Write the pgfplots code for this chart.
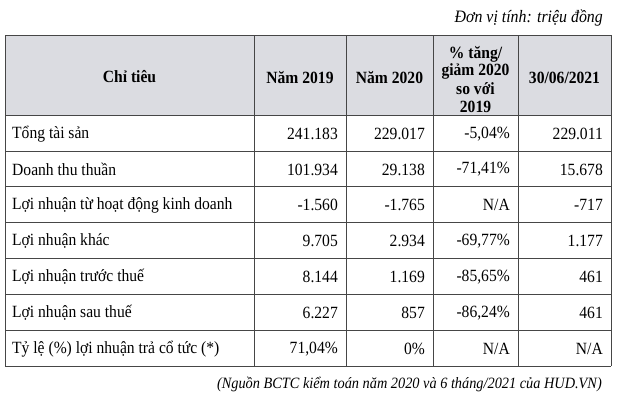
\documentclass[border=0pt]{standalone}
\usepackage{fontspec}
\setmainfont{Liberation Serif}[FakeStretch=0.91]
\usepackage{pgfplots}
\pgfplotsset{compat=1.18}
\definecolor{hdr}{RGB}{219,220,225}
\definecolor{rule}{RGB}{70,70,70}
\tikzset{
  txt/.style={font=\fontsize{17.2}{18}\selectfont, inner sep=0pt},
  hd/.style={font=\fontsize{17.2}{18}\selectfont\bfseries, inner sep=0pt},
}
\begin{document}
\begin{tikzpicture}
\begin{axis}[
    width=630bp, height=402bp, scale only axis,
    xmin=0, xmax=630, ymin=0, ymax=402, y dir=reverse,
    hide axis, clip=false,
]
\addplot[draw=none, forget plot] coordinates {(0,0) (630,402)};
% header band
\addplot[fill=hdr, draw=none] coordinates {(5,35) (611,35) (611,115) (5,115)} -- cycle;
% grid
\pgfplotsinvokeforeach{35,115,151,186,222,258,294,330,366}{
  \addplot[rule, line width=0.8bp] coordinates {(5,#1) (611,#1)};
}
\pgfplotsinvokeforeach{5,254,346,433,518,611}{
  \addplot[rule, line width=0.8bp] coordinates {(#1,35) (#1,366)};
}
% notes
\node[anchor=east, inner sep=0pt, font=\fontsize{17.5}{19}\selectfont\itshape] at (axis cs:603,18) {Đơn vị tính: triệu đồng};
\node[anchor=east, inner sep=0pt, font=\fontsize{15.8}{18}\selectfont\itshape] at (axis cs:602,384) {(Nguồn BCTC kiểm toán năm 2020 và 6 tháng/2021 của HUD.VN)};
% header text
\node[hd] at (axis cs:129.5,77) {Chỉ tiêu};
\node[hd] at (axis cs:300,78) {Năm 2019};
\node[hd] at (axis cs:389.5,78) {Năm 2020};
\node[hd] at (axis cs:475.5,54) {\% tăng/};
\node[hd] at (axis cs:475.5,71.5) {giảm 2020};
\node[hd] at (axis cs:475.5,89) {so với};
\node[hd] at (axis cs:475.5,106.5) {2019};
\node[hd] at (axis cs:564.5,78) {30/06/2021};
% row labels
\node[txt, anchor=west] at (axis cs:12,134) {Tổng tài sản};
\node[txt, anchor=west] at (axis cs:12,169.5) {Doanh thu thuần};
\node[txt, anchor=west] at (axis cs:12,205) {Lợi nhuận từ hoạt động kinh doanh};
\node[txt, anchor=west] at (axis cs:12,241) {Lợi nhuận khác};
\node[txt, anchor=west] at (axis cs:12,277) {Lợi nhuận trước thuế};
\node[txt, anchor=west] at (axis cs:12,313) {Lợi nhuận sau thuế};
\node[txt, anchor=west] at (axis cs:12,349) {Tỷ lệ (\%) lợi nhuận trả cổ tức (*)};
% Năm 2019
\node[txt, anchor=east] at (axis cs:338,134) {241.183};
\node[txt, anchor=east] at (axis cs:338,169.5) {101.934};
\node[txt, anchor=east] at (axis cs:338,205) {-1.560};
\node[txt, anchor=east] at (axis cs:338,241) {9.705};
\node[txt, anchor=east] at (axis cs:338,277) {8.144};
\node[txt, anchor=east] at (axis cs:338,313) {6.227};
\node[txt, anchor=east] at (axis cs:338,349) {71,04\%};
% Năm 2020
\node[txt, anchor=east] at (axis cs:425,134) {229.017};
\node[txt, anchor=east] at (axis cs:425,169.5) {29.138};
\node[txt, anchor=east] at (axis cs:425,205) {-1.765};
\node[txt, anchor=east] at (axis cs:425,241) {2.934};
\node[txt, anchor=east] at (axis cs:425,277) {1.169};
\node[txt, anchor=east] at (axis cs:425,313) {857};
\node[txt, anchor=east] at (axis cs:425,349) {0\%};
% % change
\node[txt, anchor=east] at (axis cs:510,134) {-5,04\%};
\node[txt, anchor=east] at (axis cs:510,169.5) {-71,41\%};
\node[txt, anchor=east] at (axis cs:510,205) {N/A};
\node[txt, anchor=east] at (axis cs:510,241) {-69,77\%};
\node[txt, anchor=east] at (axis cs:510,277) {-85,65\%};
\node[txt, anchor=east] at (axis cs:510,313) {-86,24\%};
\node[txt, anchor=east] at (axis cs:510,349) {N/A};
% 30/06/2021
\node[txt, anchor=east] at (axis cs:603,134) {229.011};
\node[txt, anchor=east] at (axis cs:603,169.5) {15.678};
\node[txt, anchor=east] at (axis cs:603,205) {-717};
\node[txt, anchor=east] at (axis cs:603,241) {1.177};
\node[txt, anchor=east] at (axis cs:603,277) {461};
\node[txt, anchor=east] at (axis cs:603,313) {461};
\node[txt, anchor=east] at (axis cs:603,349) {N/A};
\end{axis}
\end{tikzpicture}
\end{document}
